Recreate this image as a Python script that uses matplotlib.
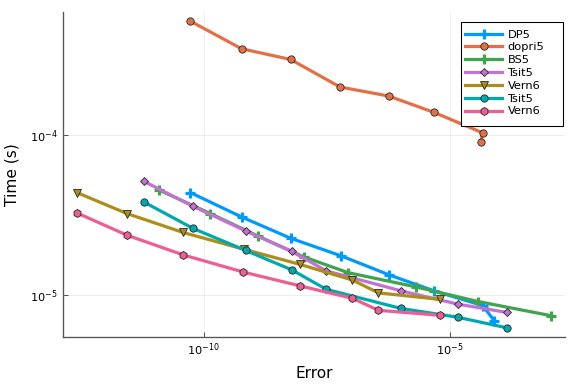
import numpy as np
import matplotlib
matplotlib.use("Agg")
import matplotlib.pyplot as plt
from matplotlib.patches import Rectangle

# log10 of error / time values
dp5_err = [-10.271, -9.233, -8.236, -7.218, -6.241, -5.315, -4.335, -4.099]
dp5_t = [-4.362, -4.514, -4.647, -4.756, -4.875, -4.976, -5.067, -5.162]

dopri5_err = [-10.271, -9.233, -8.236, -7.232, -6.247, -5.326, -4.328, -4.375]
dopri5_t = [-3.292, -3.464, -3.531, -3.703, -3.759, -3.861, -3.990, -4.044]

bs5_err = [-10.902, -9.864, -8.907, -7.971, -7.066, -5.698, -4.430, -2.951]
bs5_t = [-4.347, -4.493, -4.632, -4.763, -4.862, -4.950, -5.042, -5.130]

tsit5a_err = [-11.221, -10.216, -9.151, -8.215, -7.509, -5.997, -4.843, -3.846]
tsit5a_t = [-4.291, -4.448, -4.601, -4.729, -4.851, -4.975, -5.058, -5.110]

vern6a_err = [-12.576, -11.559, -10.419, -9.192, -8.048, -6.980, -6.451, -5.193]
vern6a_t = [-4.362, -4.493, -4.611, -4.715, -4.810, -4.908, -4.988, -5.029]

tsit5b_err = [-11.221, -10.216, -9.151, -8.215, -7.509, -5.997, -4.843, -3.846]
tsit5b_t = [-4.420, -4.586, -4.723, -4.844, -4.966, -5.085, -5.140, -5.206]

vern6b_err = [-12.576, -11.559, -10.419, -9.198, -8.048, -6.980, -6.451, -5.193]
vern6b_t = [-4.489, -4.628, -4.751, -4.858, -4.944, -5.022, -5.097, -5.128]

labels = ["DP5", "dopri5", "BS5", "Tsit5", "Vern6", "Tsit5", "Vern6"]
colors = ["#009AFA", "#E36F47", "#3EA44E", "#C371D2", "#AC8E18", "#00A9AD", "#ED5E93"]
markers = ["+", "o", "+", "D", "v", "o", "h"]
series = [(dp5_err, dp5_t), (dopri5_err, dopri5_t), (bs5_err, bs5_t),
          (tsit5a_err, tsit5a_t), (vern6a_err, vern6a_t),
          (tsit5b_err, tsit5b_t), (vern6b_err, vern6b_t)]

W, H = 576, 384
fig = plt.figure(figsize=(6, 4), dpi=96)
ax = fig.add_axes([0.1089, 0.1224, 0.872, 0.8464])

for (e, t), lab, c, m in zip(series, labels, colors, markers):
    x = 10.0 ** np.array(e)
    y = 10.0 ** np.array(t)
    if m == "+":
        ax.plot(x, y, color=c, lw=2.4, marker="+", ms=7, mew=2.4, label=lab)
    else:
        ms = {"o": 5.5, "D": 4.6, "v": 6.0, "h": 6.0}[m]
        ax.plot(x, y, color=c, lw=2.4, marker=m, ms=ms, mfc=c, mec="#222222",
                mew=0.6, label=lab)

ax.set_xscale("log")
ax.set_yscale("log")

allx = np.concatenate([np.array(s[0]) for s in series])
ally = np.concatenate([np.array(s[1]) for s in series])
px = 0.03 * (allx.max() - allx.min())
py = 0.03 * (ally.max() - ally.min())
ax.set_xlim(10 ** (allx.min() - px), 10 ** (allx.max() + px))
ax.set_ylim(10 ** (ally.min() - py), 10 ** (ally.max() + py))

ax.set_xticks([1e-10, 1e-5])
ax.set_yticks([1e-5, 1e-4])
ax.minorticks_off()
ax.tick_params(direction="in", length=4, width=0.8, color="#555555", labelsize=8.5)
ax.grid(True, color="#000000", alpha=0.1, lw=0.5)
for s in ["top", "right"]:
    ax.spines[s].set_visible(False)
for s in ["left", "bottom"]:
    ax.spines[s].set_color("#555555")
    ax.spines[s].set_linewidth(1.0)

ax.set_xlabel("Error", fontsize=11.5, labelpad=6)
ax.set_ylabel("Time (s)", fontsize=11.5, labelpad=8)

# legend box drawn like Plots.jl (wide right padding), entries on top
ax.add_patch(Rectangle((461 / W, 1 - 126 / H), 102 / W, 104 / H,
                       transform=fig.transFigure, facecolor="white",
                       edgecolor="#000000", lw=0.8, zorder=4, clip_on=False))
leg = ax.legend(loc="upper left", fontsize=8.5, frameon=False,
                handlelength=3.3, labelspacing=0.25, borderpad=0,
                handletextpad=0.45, borderaxespad=0,
                bbox_to_anchor=(465 / W, 1 - 29.5 / H),
                bbox_transform=fig.transFigure)
leg.set_zorder(5)

fig.savefig("out.png", dpi=96)
